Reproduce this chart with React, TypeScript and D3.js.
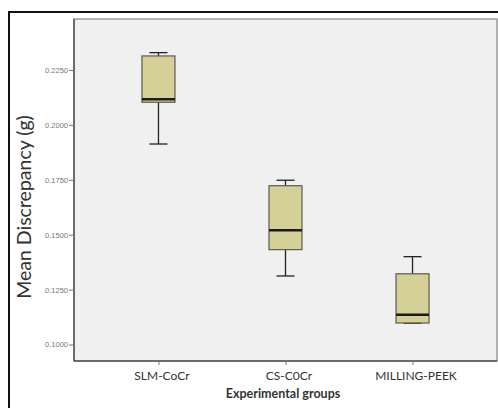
import React, { useEffect, useRef } from 'react';
import * as d3 from 'd3';

// group names and five-number summaries
const groups = ['SLM-CoCr', 'CS-C0Cr', 'MILLING-PEEK'];
const mins = [0.1913, 0.1312, 0.1097];
const q1s = [0.2103, 0.1432, 0.1098];
const medians = [0.2117, 0.1520, 0.1136];
const q3s = [0.2314, 0.1723, 0.1322];
const maxs = [0.2329, 0.1748, 0.1400];
const yTicks = [0.1, 0.125, 0.15, 0.175, 0.2, 0.225];

const App = () => {
  const svgRef = useRef(null);

  useEffect(() => {
    const W = 498, H = 408;
    const panel = { left: 74, top: 19, right: 497, bottom: 361 };

    const svg = d3.select(svgRef.current)
      .attr('width', W)
      .attr('height', H);
    svg.selectAll('*').remove();

    // outer frame
    svg.append('path')
      .attr('d', `M9,${H + 2}V12H${W + 2}`)
      .attr('fill', 'none')
      .attr('stroke', '#111')
      .attr('stroke-width', 2);

    const yScale = d3.scaleLinear()
      .domain([0.1, 0.225])
      .range([344.5, 70]);

    const xScale = d3.scalePoint()
      .domain(groups)
      .range([panel.left, panel.right])
      .padding(0.665);

    // plot area
    svg.append('rect')
      .attr('x', panel.left)
      .attr('y', panel.top)
      .attr('width', panel.right - panel.left)
      .attr('height', panel.bottom - panel.top)
      .attr('fill', '#f0f0f0')
      .attr('stroke', '#9a9a9a')
      .attr('stroke-width', 1.5);

    // y axis
    const yAxis = svg.append('g')
      .attr('transform', `translate(${panel.left},0)`)
      .call(d3.axisLeft(yScale).tickValues(yTicks).tickFormat(d3.format('.4f')).tickSize(5).tickPadding(1));
    yAxis.select('.domain').attr('d', `M0,${panel.top}V${panel.bottom}`).attr('stroke', '#555').attr('stroke-width', 1.5);
    yAxis.selectAll('.tick line').attr('stroke', '#777');
    yAxis.selectAll('.tick text')
      .attr('fill', '#777')
      .style('font-family', 'Liberation Sans, Arial, sans-serif')
      .style('font-size', '7.5px');

    // x axis
    const xAxis = svg.append('g')
      .attr('transform', `translate(0,${panel.bottom})`)
      .call(d3.axisBottom(xScale).tickSize(4).tickPadding(6));
    xAxis.select('.domain').attr('d', `M${panel.left},0H${panel.right}`).attr('stroke', '#555').attr('stroke-width', 1.5);
    xAxis.selectAll('.tick line').attr('stroke', '#777');
    xAxis.selectAll('.tick text')
      .attr('fill', '#333')
      .attr('dx', 3)
      .style('font-family', 'Lato, sans-serif')
      .style('font-size', '12px');

    // boxes
    const boxW = 33, capW = 18;
    const g = svg.append('g');
    groups.forEach((name, i) => {
      const cx = xScale(name);
      g.append('line')
        .attr('x1', cx).attr('x2', cx)
        .attr('y1', yScale(maxs[i])).attr('y2', yScale(q3s[i]))
        .attr('stroke', '#222').attr('stroke-width', 1.3);
      g.append('line')
        .attr('x1', cx).attr('x2', cx)
        .attr('y1', yScale(q1s[i])).attr('y2', yScale(mins[i]))
        .attr('stroke', '#222').attr('stroke-width', 1.3);
      [maxs[i], mins[i]].forEach((v) => {
        g.append('line')
          .attr('x1', cx - capW / 2).attr('x2', cx + capW / 2)
          .attr('y1', yScale(v)).attr('y2', yScale(v))
          .attr('stroke', '#222').attr('stroke-width', 1.3);
      });
      g.append('rect')
        .attr('x', cx - boxW / 2)
        .attr('y', yScale(q3s[i]))
        .attr('width', boxW)
        .attr('height', yScale(q1s[i]) - yScale(q3s[i]))
        .attr('fill', '#d4d097')
        .attr('stroke', '#5a5a4a')
        .attr('stroke-width', 1.2);
      g.append('line')
        .attr('x1', cx - boxW / 2).attr('x2', cx + boxW / 2)
        .attr('y1', yScale(medians[i])).attr('y2', yScale(medians[i]))
        .attr('stroke', '#1a1a1a').attr('stroke-width', 2.5);
    });

    // axis titles
    svg.append('text')
      .attr('x', 283)
      .attr('y', 398)
      .attr('text-anchor', 'middle')
      .attr('fill', '#333')
      .style('font-family', 'Lato, sans-serif')
      .style('font-size', '12.5px')
      .style('font-weight', 'bold')
      .text('Experimental groups');

    svg.append('text')
      .attr('transform', 'translate(31,207) rotate(-90)')
      .attr('text-anchor', 'middle')
      .attr('fill', '#333')
      .style('font-family', 'Lato, sans-serif')
      .style('font-size', '19.5px')
      .text('Mean Discrepancy (g)');
  }, []);

  return (
    <div style={{ position: 'absolute', left: 0, top: 0 }}>
      <svg ref={svgRef} style={{ display: 'block' }}></svg>
    </div>
  );
};

export default App;
